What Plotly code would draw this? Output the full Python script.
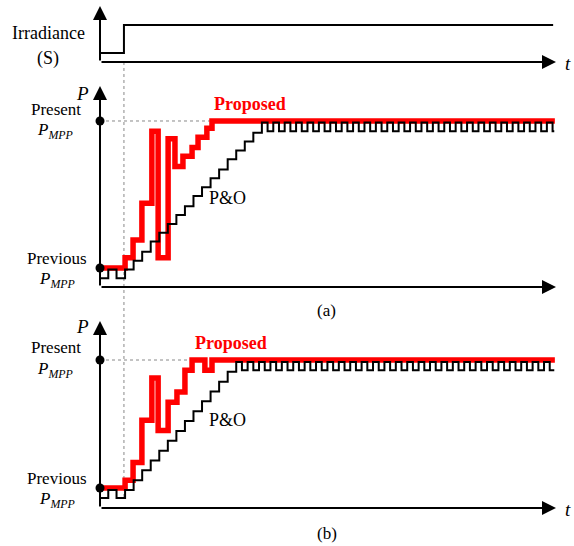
import plotly.graph_objects as go

# ---------------- data (time in arbitrary units, power normalised: 0 = previous MPP, 1 = present MPP)
irr_t = [0, 8.4, 159]
irr_s = [0, 1, 1]
t_change = 8.4

# Panel (a): proposed
prop_a_t = [0, 8.8, 11.6, 14.7, 18.2, 20.4, 23.9, 26.3, 29.1, 32.3, 34.4, 37.5, 39.3, 159.6]
prop_a_p = [0, 0.07, 0.19, 0.44, 0.93, 0.07, 0.88, 0.69, 0.76, 0.82, 0.89, 0.95, 1.0, 1.0]

# Panel (a): P&O
po_a_t = [0, 2.9, 5.8,
          8.8, 11.8, 14.8, 17.8, 20.8, 23.8, 26.8, 29.8, 32.8, 35.8, 38.8, 41.8, 44.8, 47.8, 50.8, 53.8, 56.8,
          58.8, 60.8, 62.8, 64.8, 66.8, 68.8, 70.8, 72.8, 74.8, 76.8, 78.8, 80.8, 82.8, 84.8, 86.8, 88.8,
          90.8, 92.8, 94.8, 96.8, 98.8, 100.8, 102.8, 104.8, 106.8, 108.8, 110.8, 112.8, 114.8, 116.8,
          118.8, 120.8, 122.8, 124.8, 126.8, 128.8, 130.8, 132.8, 134.8, 136.8, 138.8, 140.8, 142.8,
          144.8, 146.8, 148.8, 150.8, 152.8, 154.8, 156.8, 158.8, 159.4]
po_a_p = [-0.07, -0.01, -0.07,
          -0.01, 0.05, 0.11, 0.18, 0.24, 0.30, 0.36, 0.42, 0.49, 0.55, 0.61, 0.67, 0.74, 0.80, 0.86, 0.92, 0.99,
          0.93, 0.99, 0.93, 0.99, 0.93, 0.99, 0.93, 0.99, 0.93, 0.99, 0.93, 0.99, 0.93, 0.99, 0.93, 0.99,
          0.93, 0.99, 0.93, 0.99, 0.93, 0.99, 0.93, 0.99, 0.93, 0.99, 0.93, 0.99, 0.93, 0.99,
          0.93, 0.99, 0.93, 0.99, 0.93, 0.99, 0.93, 0.99, 0.93, 0.99, 0.93, 0.99, 0.93,
          0.99, 0.93, 0.99, 0.93, 0.99, 0.93, 0.99, 0.93, 0.93]

# Panel (b): proposed
prop_b_t = [0, 8.8, 11.6, 14.7, 18.2, 20.4, 23.9, 27.0, 29.8, 32.3, 36.8, 39.3, 159.6]
prop_b_p = [0, 0.06, 0.20, 0.53, 0.86, 0.45, 0.67, 0.75, 0.92, 1.0, 0.92, 1.0, 1.0]

# Panel (b): P&O
po_b_t = [0, 2.9, 5.8,
          8.8, 11.8, 14.8, 17.8, 20.8, 23.8, 26.8, 29.8, 32.8, 35.8, 38.8, 41.8, 44.8, 47.8,
          49.8, 51.8, 53.8, 55.8, 57.8, 59.8, 61.8, 63.8, 65.8, 67.8, 69.8, 71.8, 73.8, 75.8, 77.8,
          79.8, 81.8, 83.8, 85.8, 87.8, 89.8, 91.8, 93.8, 95.8, 97.8, 99.8, 101.8, 103.8, 105.8,
          107.8, 109.8, 111.8, 113.8, 115.8, 117.8, 119.8, 121.8, 123.8, 125.8, 127.8, 129.8, 131.8,
          133.8, 135.8, 137.8, 139.8, 141.8, 143.8, 145.8, 147.8, 149.8, 151.8, 153.8, 155.8, 157.8, 159.4]
po_b_p = [-0.078, -0.016, -0.078,
          -0.016, 0.061, 0.138, 0.215, 0.292, 0.369, 0.446, 0.523, 0.600, 0.677, 0.754, 0.831, 0.908, 0.984,
          0.92, 0.984, 0.92, 0.984, 0.92, 0.984, 0.92, 0.984, 0.92, 0.984, 0.92, 0.984, 0.92, 0.984, 0.92,
          0.984, 0.92, 0.984, 0.92, 0.984, 0.92, 0.984, 0.92, 0.984, 0.92, 0.984, 0.92, 0.984, 0.92,
          0.984, 0.92, 0.984, 0.92, 0.984, 0.92, 0.984, 0.92, 0.984, 0.92, 0.984, 0.92, 0.984,
          0.92, 0.984, 0.92, 0.984, 0.92, 0.984, 0.92, 0.984, 0.92, 0.984, 0.92, 0.984, 0.92, 0.92]

# ---------------- figure
W, H = 574, 546
FONT = "Liberation Serif"
RED = "#ff0000"

fig = go.Figure()

fig.add_trace(go.Scatter(x=irr_t, y=irr_s, mode="lines", line=dict(shape="hv", color="black", width=2),
                         xaxis="x", yaxis="y", hoverinfo="skip"))

fig.add_trace(go.Scatter(x=prop_a_t, y=prop_a_p, mode="lines", line=dict(shape="hv", color=RED, width=5.5),
                         xaxis="x", yaxis="y2", hoverinfo="skip"))
fig.add_trace(go.Scatter(x=po_a_t, y=po_a_p, mode="lines", line=dict(shape="hv", color="black", width=2),
                         xaxis="x", yaxis="y2", hoverinfo="skip"))
fig.add_trace(go.Scatter(x=[0, 0], y=[0, 1], mode="markers", marker=dict(color="black", size=9),
                         xaxis="x", yaxis="y2", hoverinfo="skip"))

fig.add_trace(go.Scatter(x=prop_b_t, y=prop_b_p, mode="lines", line=dict(shape="hv", color=RED, width=5.5),
                         xaxis="x", yaxis="y3", hoverinfo="skip"))
fig.add_trace(go.Scatter(x=po_b_t, y=po_b_p, mode="lines", line=dict(shape="hv", color="black", width=2),
                         xaxis="x", yaxis="y3", hoverinfo="skip"))
fig.add_trace(go.Scatter(x=[0, 0], y=[0, 1], mode="markers", marker=dict(color="black", size=9),
                         xaxis="x", yaxis="y3", hoverinfo="skip"))

hidden = dict(visible=False, fixedrange=True)
fig.update_layout(
    width=W, height=H, margin=dict(l=0, r=0, t=0, b=0),
    paper_bgcolor="white", plot_bgcolor="white", showlegend=False,
    xaxis=dict(range=[-35.09, 166.32], domain=[0, 1], **hidden),
    yaxis=dict(range=[-17.607, 1.893], domain=[0, 1], **hidden),
    yaxis2=dict(range=[-1.891, 1.823], overlaying="y", anchor="x", **hidden),
    yaxis3=dict(range=[-0.453, 3.8125], overlaying="y", anchor="x", **hidden),
)

def arrow(x, y, ax, ay, yref):
    fig.add_annotation(x=x, y=y, ax=ax, ay=ay, xref="x", yref=yref, axref="x", ayref=yref,
                       showarrow=True, arrowhead=2, arrowsize=1.4, arrowwidth=2, arrowcolor="black",
                       text="", standoff=0, startstandoff=0)

# axes with arrows
arrow(0, 1.68, 0, -0.321, "y")
arrow(160, -0.321, 0, -0.321, "y")
arrow(0, 1.238, 0, -0.129, "y2")
arrow(160, -0.129, 0, -0.129, "y2")
arrow(0, 1.305, 0, -0.156, "y3")
arrow(160, -0.156, 0, -0.156, "y3")

# dashed guide lines
fig.add_shape(type="line", xref="x", yref="paper", x0=t_change, x1=t_change,
              y0=1 - 62 / H, y1=1 - 500 / H, line=dict(color="#888888", width=1, dash="3px,3px"), layer="below")
fig.add_shape(type="line", xref="x", yref="y2", x0=0, x1=39.3, y0=1, y1=1,
              line=dict(color="#888888", width=1, dash="3px,3px"), layer="below")
fig.add_shape(type="line", xref="x", yref="y3", x0=0, x1=32.3, y0=1, y1=1,
              line=dict(color="#888888", width=1, dash="3px,3px"), layer="below")

def label(text, x, y, yref, size=17, color="black", bold=False):
    fig.add_annotation(x=x, y=y, xref="x", yref=yref, text=("<b>%s</b>" % text) if bold else text,
                       showarrow=False, xanchor="center", yanchor="middle",
                       font=dict(family=FONT, size=size, color=color))

PMPP = "<i>P</i><sub><i>MPP</i></sub>"

label("Irradiance", -18.2, 0.714, "y", size=18)
label("(S)", -18.2, -0.179, "y", size=18)
label("<i>t</i>", 164.2, -0.39, "y", size=19)

label("<i>P</i>", -6.3, 1.19, "y2", size=19)
label("Present", -15.4, 1.075, "y2")
label(PMPP, -15.8, 0.932, "y2")
label("Previous", -15.1, 0.068, "y2")
label(PMPP, -15.1, -0.082, "y2")
label("Proposed", 52.6, 1.116, "y2", size=18, color=RED, bold=True)
label("P&amp;O", 44.9, 0.476, "y2", size=18)
label("(a)", 79.6, -0.286, "y2")

label("<i>P</i>", -6.3, 1.258, "y3", size=19)
label("Present", -15.4, 1.10, "y3")
label(PMPP, -15.8, 0.922, "y3")
label("Previous", -15.1, 0.078, "y3")
label(PMPP, -15.1, -0.094, "y3")
label("Proposed", 46.0, 1.133, "y3", size=18, color=RED, bold=True)
label("P&amp;O", 44.9, 0.531, "y3", size=18)
label("(b)", 79.6, -0.352, "y3")
label("<i>t</i>", 164.2, -0.164, "y3", size=19)

fig.write_html("out.html")
